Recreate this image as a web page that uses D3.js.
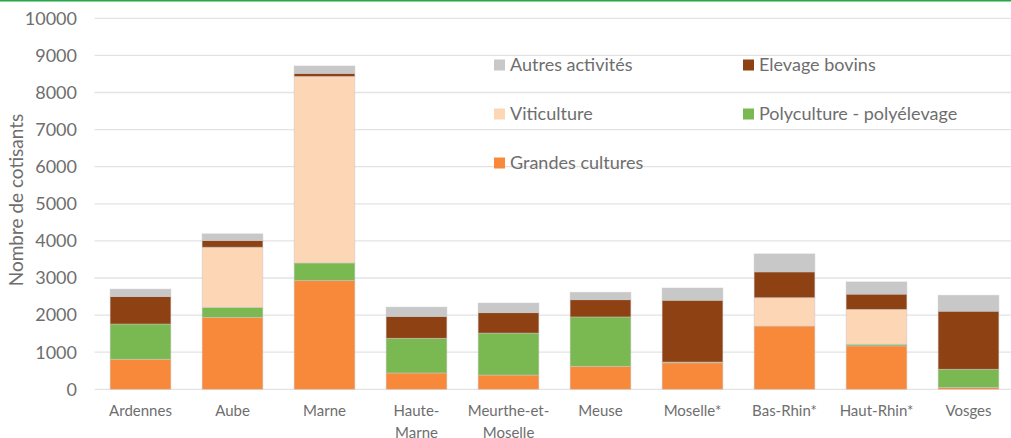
<!DOCTYPE html>
<html>
<head>
<meta charset="utf-8">
<script src="https://cdn.jsdelivr.net/npm/d3@7"></script>
<style>
  body { margin: 0; background: #fff; }
  svg { display: block; font-family: Lato, "Open Sans", sans-serif; }
</style>
</head>
<body>
<svg id="chart" width="1011" height="438"></svg>
<script>
// departements on the x axis
var departements = ["Ardennes", "Aube", "Marne", "Haute-Marne", "Meurthe-et-Moselle",
  "Meuse", "Moselle*", "Bas-Rhin*", "Haut-Rhin*", "Vosges"];

// stacked series, bottom to top
var grandesCultures = [810, 1940, 2930, 440, 385, 620, 715, 1705, 1170, 50];
var polyculture     = [950, 270, 475, 935, 1130, 1330, 20, 0, 45, 490];
var viticulture     = [0, 1620, 5030, 0, 0, 0, 0, 765, 940, 0];
var elevageBovins   = [740, 180, 80, 590, 550, 465, 1665, 695, 410, 1565];
var autres          = [200, 180, 200, 250, 260, 200, 330, 485, 330, 430];

var yTicks = [0, 1000, 2000, 3000, 4000, 5000, 6000, 7000, 8000, 9000, 10000];

var series = [
  { key: "Grandes cultures", values: grandesCultures, color: "#F8893A" },
  { key: "Polyculture - polyélevage", values: polyculture, color: "#7AB851" },
  { key: "Viticulture", values: viticulture, color: "#FDD6B5" },
  { key: "Elevage bovins", values: elevageBovins, color: "#8E4113" },
  { key: "Autres activités", values: autres, color: "#C8C8C8" }
];

// build rows for d3.stack
var rows = departements.map(function(d, i) {
  var r = { dep: d };
  series.forEach(function(s) { r[s.key] = s.values[i]; });
  return r;
});

var svg = d3.select("#chart");
var textColor = "#6e6e6e";

// green line across the top
svg.append("line")
  .attr("x1", 0).attr("x2", 1011)
  .attr("y1", 0.75).attr("y2", 0.75)
  .attr("stroke", "#23A847").attr("stroke-width", 1.5);

var x = d3.scaleBand()
  .domain(departements)
  .range([94.5, 1014.5])
  .paddingInner(0.34)
  .paddingOuter(0.17);

var y = d3.scaleLinear()
  .domain([0, 10000])
  .range([389.3, 18.3]);

// gridlines
svg.append("g")
  .selectAll("line")
  .data(yTicks)
  .enter()
  .append("line")
    .attr("x1", 94.5).attr("x2", 1011)
    .attr("y1", function(d) { return y(d); })
    .attr("y2", function(d) { return y(d); })
    .attr("stroke", "#e3e3e3")
    .attr("stroke-width", 1.3);

// y tick labels
svg.append("g")
  .selectAll("text")
  .data(yTicks)
  .enter()
  .append("text")
    .attr("x", 77)
    .attr("y", function(d) { return y(d); })
    .attr("dy", "0.35em")
    .attr("text-anchor", "end")
    .attr("fill", textColor)
    .style("font-size", "18px")
    .text(function(d) { return d; });

// y axis title
svg.append("text")
  .attr("transform", "translate(23,200) rotate(-90)")
  .attr("text-anchor", "middle")
  .attr("fill", textColor)
  .style("font-size", "19px")
  .text("Nombre de cotisants");

// stacked bars
var stack = d3.stack().keys(series.map(function(s) { return s.key; }));
var stacked = stack(rows);

var layers = svg.append("g")
  .selectAll("g")
  .data(stacked)
  .enter()
  .append("g")
    .attr("fill", function(d, i) { return series[i].color; });

layers.selectAll("rect")
  .data(function(d) { return d; })
  .enter()
  .append("rect")
    .attr("x", function(d) { return x(d.data.dep); })
    .attr("width", x.bandwidth())
    .attr("y", function(d) { return y(d[1]); })
    .attr("height", function(d) { return y(d[0]) - y(d[1]); })
    .attr("stroke", "rgba(200,200,200,0.6)")
    .attr("stroke-width", 0.8);

// x labels (wrap on hyphen)
var xLabels = {
  "Haute-Marne": ["Haute-", "Marne"],
  "Meurthe-et-Moselle": ["Meurthe-et-", "Moselle"]
};
var xl = svg.append("g")
  .selectAll("text")
  .data(departements)
  .enter()
  .append("text")
    .attr("x", function(d) { return x(d) + x.bandwidth() / 2; })
    .attr("y", 415.5)
    .attr("text-anchor", "middle")
    .attr("fill", textColor)
    .style("font-size", "15px");
xl.each(function(d) {
  var lines = xLabels[d] || [d];
  var t = d3.select(this);
  lines.forEach(function(l, i) {
    t.append("tspan")
      .attr("x", x(d) + x.bandwidth() / 2)
      .attr("dy", i === 0 ? 0 : 22)
      .text(l);
  });
});

// legend
var legendItems = [
  { key: "Autres activités", lx: 494, ly: 65 },
  { key: "Elevage bovins", lx: 743, ly: 65 },
  { key: "Viticulture", lx: 494, ly: 114 },
  { key: "Polyculture - polyélevage", lx: 743, ly: 114 },
  { key: "Grandes cultures", lx: 494, ly: 163 }
];
var legend = svg.append("g")
  .selectAll("g")
  .data(legendItems)
  .enter()
  .append("g")
    .attr("transform", function(d) { return "translate(" + d.lx + "," + d.ly + ")"; });
legend.append("rect")
  .attr("x", 0).attr("y", -5.5)
  .attr("width", 11).attr("height", 11)
  .attr("fill", function(d) {
    return series.find(function(s) { return s.key === d.key; }).color;
  });
legend.append("text")
  .attr("x", 16)
  .attr("dy", "0.35em")
  .attr("fill", textColor)
  .style("font-size", "18px")
  .text(function(d) { return d.key; });
</script>
</body>
</html>
